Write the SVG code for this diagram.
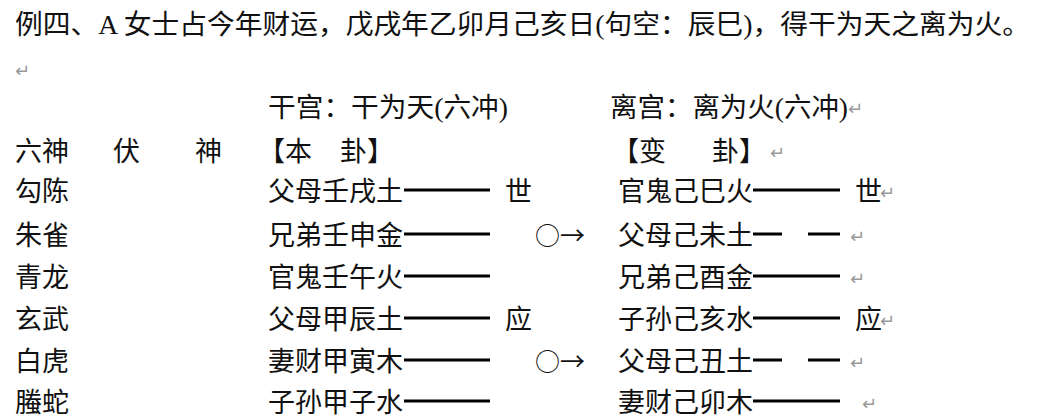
<svg xmlns="http://www.w3.org/2000/svg" width="1037" height="418" viewBox="0 0 1037 418">
<style>
text{font-family:"Liberation Serif","Noto Sans CJK SC",serif;font-size:27px;fill:#111}
.r{fill:#999;font-size:18px;font-family:"DejaVu Sans",sans-serif}
.o{font-family:"Noto Sans CJK SC",sans-serif;font-size:25px}
line{stroke:#000;stroke-width:3}
</style>
<rect width="1037" height="418" fill="#fff"/>
<g id="title"><text x="15" y="34" textLength="1015" lengthAdjust="spacingAndGlyphs">例四、A 女士占今年财运，戊戌年乙卯月己亥日(句空：辰巳)，得干为天之离为火。</text>
<text class="r" x="15" y="77">↵</text></g>
<g id="header">
<text x="268" y="117" textLength="240" lengthAdjust="spacingAndGlyphs">干宫：干为天(六冲)</text>
<text x="610" y="117" textLength="238" lengthAdjust="spacingAndGlyphs">离宫：离为火(六冲)</text><text class="r" x="848" y="115">↵</text>
<text x="15" y="161">六神</text><text x="113" y="161">伏</text><text x="195" y="161">神</text>
<text x="258" y="161">【本</text><text x="340" y="161">卦】</text>
<text x="612" y="161">【变</text><text x="712" y="161">卦】</text><text class="r" x="770" y="159">↵</text>
</g>
<g id="rows">
<text x="15" y="201">勾陈</text><text x="268" y="201">父母壬戌土</text><text x="505" y="201">世</text>
<text x="618" y="201">官鬼己巳火</text><text x="855" y="201">世</text><text class="r" x="880" y="199">↵</text>
<text x="15" y="245">朱雀</text><text x="268" y="245">兄弟壬申金</text><text class="o" x="535" y="245">○→</text>
<text x="618" y="245">父母己未土</text><text class="r" x="850" y="243">↵</text>
<text x="15" y="287">青龙</text><text x="268" y="287">官鬼壬午火</text>
<text x="618" y="287">兄弟己酉金</text><text class="r" x="850" y="285">↵</text>
<text x="15" y="329">玄武</text><text x="268" y="329">父母甲辰土</text><text x="505" y="329">应</text>
<text x="618" y="329">子孙己亥水</text><text x="855" y="329">应</text><text class="r" x="880" y="327">↵</text>
<text x="15" y="371">白虎</text><text x="268" y="371">妻财甲寅木</text><text class="o" x="535" y="371">○→</text>
<text x="618" y="371">父母己丑土</text><text class="r" x="850" y="369">↵</text>
<text x="15" y="412">螣蛇</text><text x="268" y="412">子孙甲子水</text>
<text x="618" y="412">妻财己卯木</text><text class="r" x="862" y="410">↵</text>
</g>
<g id="connectors">
<line x1="404" y1="190" x2="490" y2="190"/><line x1="753" y1="190" x2="840" y2="190"/>
<line x1="404" y1="234" x2="490" y2="234"/><line x1="753" y1="234" x2="782" y2="234"/><line x1="808" y1="234" x2="840" y2="234"/>
<line x1="404" y1="276" x2="490" y2="276"/><line x1="753" y1="276" x2="840" y2="276"/>
<line x1="404" y1="318" x2="490" y2="318"/><line x1="753" y1="318" x2="840" y2="318"/>
<line x1="404" y1="360" x2="490" y2="360"/><line x1="753" y1="360" x2="782" y2="360"/><line x1="808" y1="360" x2="840" y2="360"/>
<line x1="404" y1="401" x2="490" y2="401"/><line x1="753" y1="401" x2="840" y2="401"/>
</g>
</svg>
